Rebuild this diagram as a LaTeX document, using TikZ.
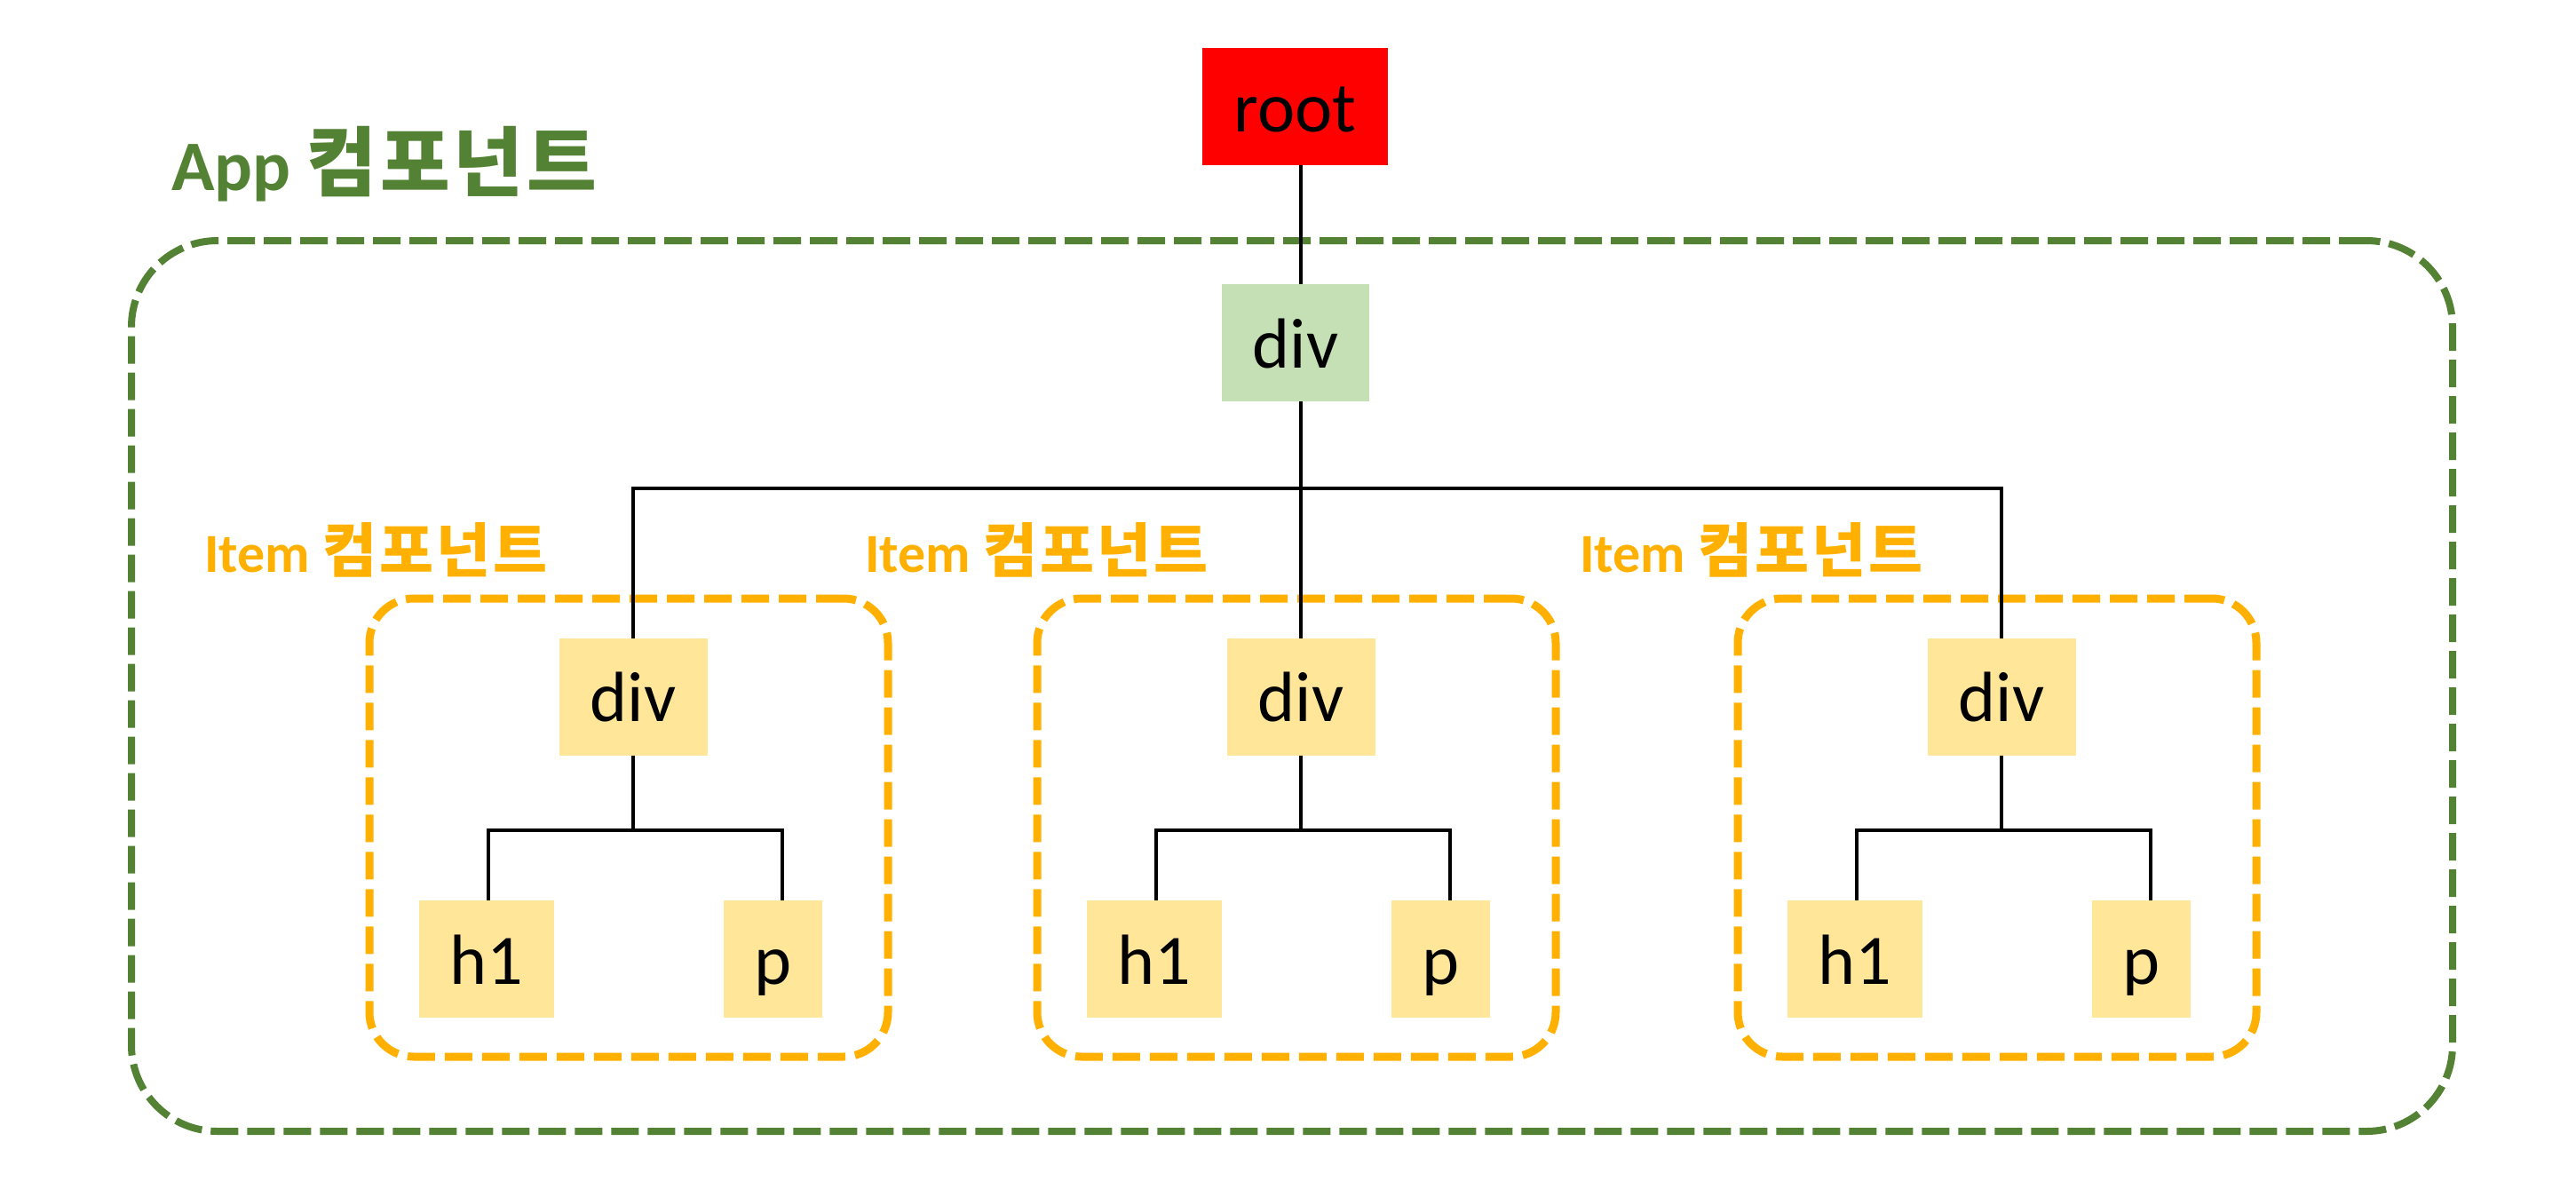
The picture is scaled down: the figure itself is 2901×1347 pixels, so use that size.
\documentclass[tikz,border=0pt]{standalone}
\usepackage{fontspec}
\setmainfont{Carlito}
\newfontfamily\kr{Noto Sans CJK KR}[Scale=1.07, LetterSpace=4.5]
\definecolor{rootred}{HTML}{FF0000}
\definecolor{divgreen}{HTML}{C5E0B4}
\definecolor{itemyellow}{HTML}{FFE699}
\definecolor{appgreen}{HTML}{548235}
\definecolor{itemorange}{HTML}{FFB000}
\begin{document}
\begin{tikzpicture}[x=1pt,y=-1pt,
  box/.style={inner sep=0pt, outer sep=0pt, text height=56pt, text depth=0pt,
              font=\fontsize{80}{96}\selectfont, minimum height=132pt},
  itembox/.style={box, fill=itemyellow},
  conn/.style={draw=black, line width=4pt},
  appframe/.style={draw=appgreen, line width=8pt, dash pattern=on 31pt off 10pt,
                   rounded corners=97pt, inner sep=0pt, outer sep=0pt},
  itemframe/.style={draw=itemorange, line width=9pt, dash pattern=on 31pt off 11pt,
                    rounded corners=50pt, inner sep=0pt, outer sep=0pt},
  applab/.style={anchor=base west, inner sep=0pt, text=appgreen,
                 font=\fontsize{80}{96}\selectfont\bfseries},
  itemlab/.style={anchor=base west, inner sep=0pt, text=itemorange,
                  font=\fontsize{62}{74}\selectfont\bfseries}]
\useasboundingbox (0,0) rectangle (2901,1347);

% App frame and label
\node[appframe, minimum width=2614pt, minimum height=1003pt] (app) at (1455,772.5) {};
\node[applab] (applabel) at (193,214) {App {\kr 컴포넌트}};

% root and App div
\node[box, fill=rootred, minimum width=209pt] (root) at (1458.5,120) {root};
\node[box, fill=divgreen, minimum width=166pt] (appdiv) at (1459,386) {div};
\coordinate (bus) at (1465,550);

% Item components
\foreach \i/\cx/\lx in {1/713/230, 2/1465/974, 3/2254/1779} {
  \node[itemframe, minimum width=584pt, minimum height=516pt] (frame\i) at (\cx-5,932) {};
  \node[itemlab] (lab\i) at (\lx,644) {Item {\kr 컴포넌트}};
  \node[itembox, minimum width=167pt] (div\i) at (\cx,784.5) {div};
  \node[itembox, minimum width=152pt] (h\i) at (\cx-165,1080) {h1};
  \node[itembox, minimum width=111pt] (p\i) at (\cx+157.5,1080) {p};
  \coordinate (b\i) at (\cx,935);
  \draw[conn] (div\i.south) -- (b\i);
  \draw[conn] ([xshift=2pt]h\i.north) |- (b\i) -| ([xshift=10.5pt]p\i.north);
}

% top-level connectors
\draw[conn] ([xshift=6.5pt]root.south) -- ([xshift=6pt]appdiv.north);
\draw[conn] ([xshift=6pt]appdiv.south) -- (div2.north);
\draw[conn] (div1.north) |- (bus) -| (div3.north);
\end{tikzpicture}
\end{document}
